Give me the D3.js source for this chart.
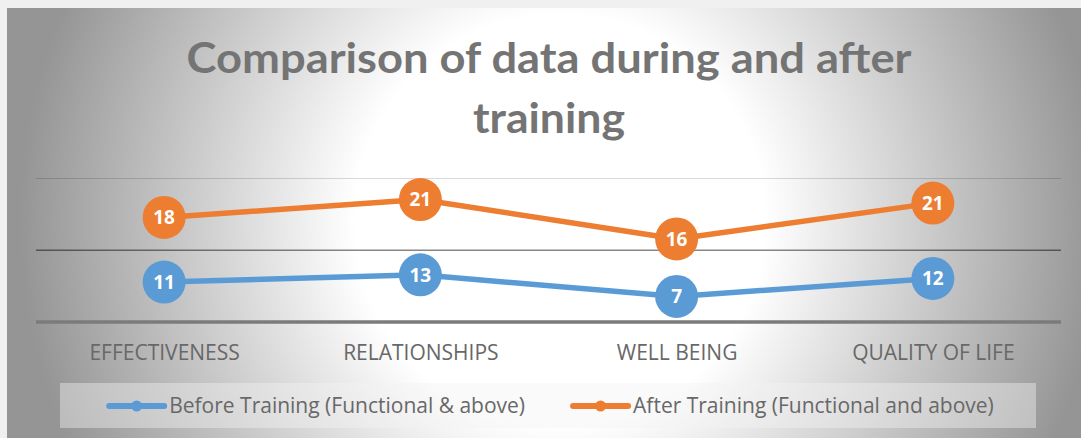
<!DOCTYPE html>
<html>
<head>
<meta charset="utf-8">
<title>Comparison of data during and after training</title>
<script src="https://cdn.jsdelivr.net/npm/d3@7"></script>
<style>
  body { margin: 0; background: #f0f0f0; }
  svg { display: block; font-family: "Open Sans", Lato, sans-serif; }
</style>
</head>
<body>
<svg width="1081" height="438" id="mainsvg"></svg>
<script>
// data
const categories = ['EFFECTIVENESS', 'RELATIONSHIPS', 'WELL BEING', 'QUALITY OF LIFE'];
const seriesNames = ['Before Training (Functional & above)', 'After Training (Functional and above)'];
const beforeValues = [11, 13, 7, 12];
const afterValues = [18, 21, 16, 21];
const yTicks = [0, 20, 40];
const titleLines = ['Comparison of data during and after', 'training'];
const colors = ['#5b9bd5', '#ed7d31'];

const svg = d3.select('#mainsvg');
const width = +svg.attr('width');
const height = +svg.attr('height');

// background: radial gradient, white centre fading to grey
const defs = svg.append('defs');
const grad = defs.append('radialGradient')
    .attr('id', 'bg')
    .attr('gradientUnits', 'userSpaceOnUse')
    .attr('cx', 560).attr('cy', 220).attr('r', 540);
grad.append('stop').attr('offset', 0.38).attr('stop-color', '#ffffff');
grad.append('stop').attr('offset', 1).attr('stop-color', '#959595');

svg.append('rect')
    .attr('x', 7).attr('y', 8)
    .attr('width', width - 7).attr('height', height - 8)
    .attr('fill', 'url(#bg)');

// title
const titleWidths = [725, 152];
svg.append('g').selectAll('text')
    .data(titleLines)
    .join('text')
    .attr('x', 549)
    .attr('y', (d, i) => 73 + i * 60)
    .attr('text-anchor', 'middle')
    .attr('font-family', 'Lato, "Open Sans", sans-serif')
    .attr('font-size', 42)
    .attr('font-weight', 'bold')
    .attr('fill', '#747474')
    .attr('textLength', (d, i) => titleWidths[i])
    .attr('lengthAdjust', 'spacingAndGlyphs')
    .text(d => d);

// scales
const x = d3.scalePoint()
    .domain(categories)
    .range([36, 1061])
    .padding(0.5);

const y = d3.scaleLinear()
    .domain([0, 40])
    .range([321.5, 178]);

// gridlines
const grid = svg.append('g')
    .attr('transform', 'translate(36,0)')
    .call(d3.axisLeft(y).tickValues(yTicks).tickSize(-(1061 - 36)).tickFormat(''));
grid.select('.domain').remove();
grid.selectAll('.tick line')
    .attr('stroke', d => d === 0 ? '#7b7b7b' : '#000')
    .attr('stroke-opacity', d => d === 0 ? 1 : d === 20 ? 0.47 : 0.15)
    .attr('stroke-width', d => d === 0 ? 3.5 : d === 20 ? 1.5 : 1);

// category labels
const xAxis = svg.append('g')
    .attr('transform', `translate(0,${y(0)})`)
    .call(d3.axisBottom(x).tickSize(0));
xAxis.select('.domain').remove();
xAxis.selectAll('text')
    .attr('y', 38.5)
    .attr('dy', 0)
    .attr('font-family', '"Open Sans", Lato, sans-serif')
    .attr('font-size', 21)
    .attr('fill', '#686868');

// stacked lines (after is stacked on top of before)
const rows = categories.map((c, i) => ({ cat: c, before: beforeValues[i], after: afterValues[i] }));
const stacked = d3.stack().keys(['before', 'after'])(rows);

const line = d3.line()
    .x(d => x(d.data.cat))
    .y(d => y(d[1]));

const series = svg.append('g').selectAll('g')
    .data(stacked)
    .join('g');

series.append('path')
    .attr('d', d => line(d))
    .attr('fill', 'none')
    .attr('stroke', (d, i) => colors[i])
    .attr('stroke-width', 5.5)
    .attr('stroke-linejoin', 'round');

series.selectAll('circle')
    .data((s, i) => s.map(p => ({ p, key: s.key, i })))
    .join('circle')
    .attr('cx', d => x(d.p.data.cat))
    .attr('cy', d => y(d.p[1]))
    .attr('r', 21.5)
    .attr('fill', d => colors[d.i]);

series.selectAll('text')
    .data(s => s.map(p => ({ p, key: s.key })))
    .join('text')
    .attr('x', d => x(d.p.data.cat))
    .attr('y', d => y(d.p[1]))
    .attr('dy', '0.36em')
    .attr('text-anchor', 'middle')
    .attr('font-size', 19)
    .attr('font-weight', 'bold')
    .attr('fill', '#ffffff')
    .text(d => d.p.data[d.key]);

// legend
svg.append('rect')
    .attr('x', 60).attr('y', 383)
    .attr('width', 976).attr('height', 45)
    .attr('fill', '#f2f2f2')
    .attr('opacity', 0.42);

const legend = svg.append('g');
const items = legend.selectAll('g')
    .data(seriesNames)
    .join('g');
items.append('line')
    .attr('x1', 0).attr('x2', 55)
    .attr('y1', 0).attr('y2', 0)
    .attr('stroke', (d, i) => colors[i])
    .attr('stroke-width', 6)
    .attr('stroke-linecap', 'round');
items.append('circle')
    .attr('cx', 27.5).attr('cy', 0).attr('r', 5.5)
    .attr('fill', (d, i) => colors[i]);
items.append('text')
    .attr('x', 60)
    .attr('y', 0)
    .attr('dy', '0.35em')
    .attr('font-size', 21)
    .attr('fill', '#686868')
    .text(d => d);

let offset = 0;
items.each(function () {
    const w = 60 + d3.select(this).select('text').node().getComputedTextLength();
    d3.select(this).attr('transform', `translate(${offset},0)`);
    offset += w + 48;
});
const total = offset - 48;
legend.attr('transform', `translate(${551.5 - total / 2},406)`);
</script>
</body>
</html>
